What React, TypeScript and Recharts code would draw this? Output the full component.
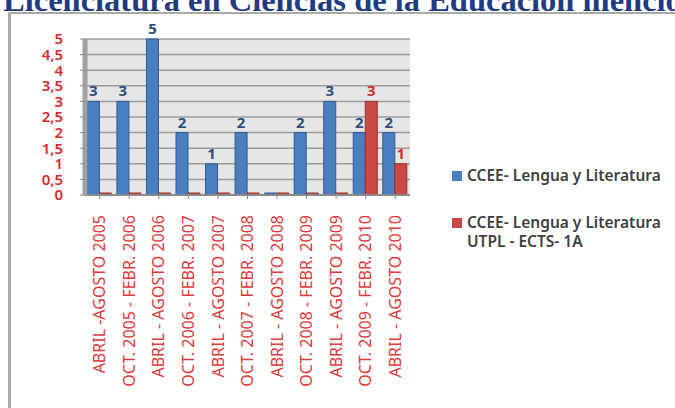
import { BarChart, Bar, XAxis, YAxis, CartesianGrid, LabelList } from "recharts";

const PERIODS = [
  "ABRIL -AGOSTO 2005",
  "OCT. 2005 - FEBR. 2006",
  "ABRIL - AGOSTO 2006",
  "OCT. 2006 - FEBR. 2007",
  "ABRIL - AGOSTO 2007",
  "OCT. 2007 - FEBR. 2008",
  "ABRIL - AGOSTO 2008",
  "OCT. 2008 - FEBR. 2009",
  "ABRIL - AGOSTO 2009",
  "OCT. 2009 - FEBR. 2010",
  "ABRIL - AGOSTO 2010",
];

const LENGUA = [3, 3, 5, 2, 1, 2, 0, 2, 3, 2, 2];
const UTPL = [0, 0, 0, 0, 0, 0, 0, 0, 0, 3, 1];

const Y_TICKS = [0, 0.5, 1, 1.5, 2, 2.5, 3, 3.5, 4, 4.5, 5];

const BLUE = "#4a7ebf";
const RED = "#c94a45";

const LEGEND = [
  { color: BLUE, text: "CCEE- Lengua y Literatura" },
  { color: RED, text: "CCEE- Lengua y Literatura\nUTPL - ECTS- 1A" },
];

const data = PERIODS.map((p, i) => ({ period: p, a: LENGUA[i], b: UTPL[i] }));

const FONT = "'Noto Sans', 'Open Sans', sans-serif";

const hideZero = (v: any) => (v === 0 ? "" : v);

const XTick = (props: any) => {
  const { x, y, payload } = props;
  return (
    <text
      x={x}
      y={y + 14}
      transform={`rotate(-90, ${x}, ${y + 14})`}
      textAnchor="end"
      dy="0.35em"
      fill="#e03a3a"
      fontSize={16}
      fontFamily={FONT}
    >
      {payload.value}
    </text>
  );
};

export default function App() {
  return (
    <div style={{ position: "fixed", left: 0, top: 0, width: 675, height: 408, overflow: "hidden", background: "#fff" }}>
      <div
        style={{
          position: "absolute",
          left: 3,
          top: -18,
          whiteSpace: "nowrap",
          fontFamily: "'Liberation Serif', serif",
          fontWeight: 700,
          fontSize: 32.5,
          color: "#1f3c82",
        }}
      >
        Licenciatura en Ciencias de la Educación mención
      </div>
      <div
        style={{
          position: "absolute",
          left: 8,
          top: 12,
          width: 700,
          height: 400,
          borderLeft: "3px solid #a8a8a8",
          borderTop: "2px solid #a8a8a8",
        }}
      />
      <div style={{ position: "absolute", left: 0, top: 0 }}>
        <BarChart
          width={675}
          height={408}
          data={data}
          margin={{ top: 39, right: 265, left: 55, bottom: 13 }}
          barCategoryGap="8%"
          barGap={0}
        >
          <CartesianGrid vertical={false} fill="#e6e6e6" stroke="#9c9c9c" strokeWidth={1.5} />
          <XAxis
            dataKey="period"
            interval={0}
            height={200}
            tick={<XTick />}
            tickSize={4}
            axisLine={{ stroke: "#8a8a8a", strokeWidth: 2 }}
            tickLine={{ stroke: "#8a8a8a" }}
          />
          <YAxis
            width={30}
            domain={[0, 5]}
            ticks={Y_TICKS}
            interval={0}
            tickSize={5}
            tickMargin={17}
            tickFormatter={(v: number) => String(v).replace(".", ",")}
            tick={{ fill: "#d42a2a", fontSize: 15, fontFamily: FONT, fontWeight: 600 }}
            axisLine={{ stroke: "#a0a0a0", strokeWidth: 5 }}
            tickLine={{ stroke: "#8a8a8a" }}
          />
          <Bar dataKey="a" fill={BLUE} stroke="#2c5a96" minPointSize={2} isAnimationActive={false}>
            <LabelList
              dataKey="a"
              position="top"
              formatter={hideZero}
              fill="#2b4f80"
              fontSize={15}
              fontWeight={700}
              fontFamily={FONT}
            />
          </Bar>
          <Bar dataKey="b" fill={RED} stroke="#9b2f2b" minPointSize={2} isAnimationActive={false}>
            <LabelList
              dataKey="b"
              position="top"
              formatter={hideZero}
              fill="#d03030"
              fontSize={15}
              fontWeight={700}
              fontFamily={FONT}
            />
          </Bar>
        </BarChart>
      </div>
      <div
        style={{
          position: "absolute",
          left: 452,
          top: 166,
          fontFamily: FONT,
          fontSize: 15.5,
          fontWeight: 600,
          color: "#404040",
        }}
      >
        {LEGEND.map((it, i) => (
          <div key={i} style={{ display: "flex", alignItems: "flex-start", marginBottom: 28, lineHeight: "19px" }}>
            <span style={{ width: 10, height: 10, background: it.color, marginTop: 5, marginRight: 5, flex: "none" }} />
            <span style={{ whiteSpace: "pre-line" }}>{it.text}</span>
          </div>
        ))}
      </div>
    </div>
  );
}
